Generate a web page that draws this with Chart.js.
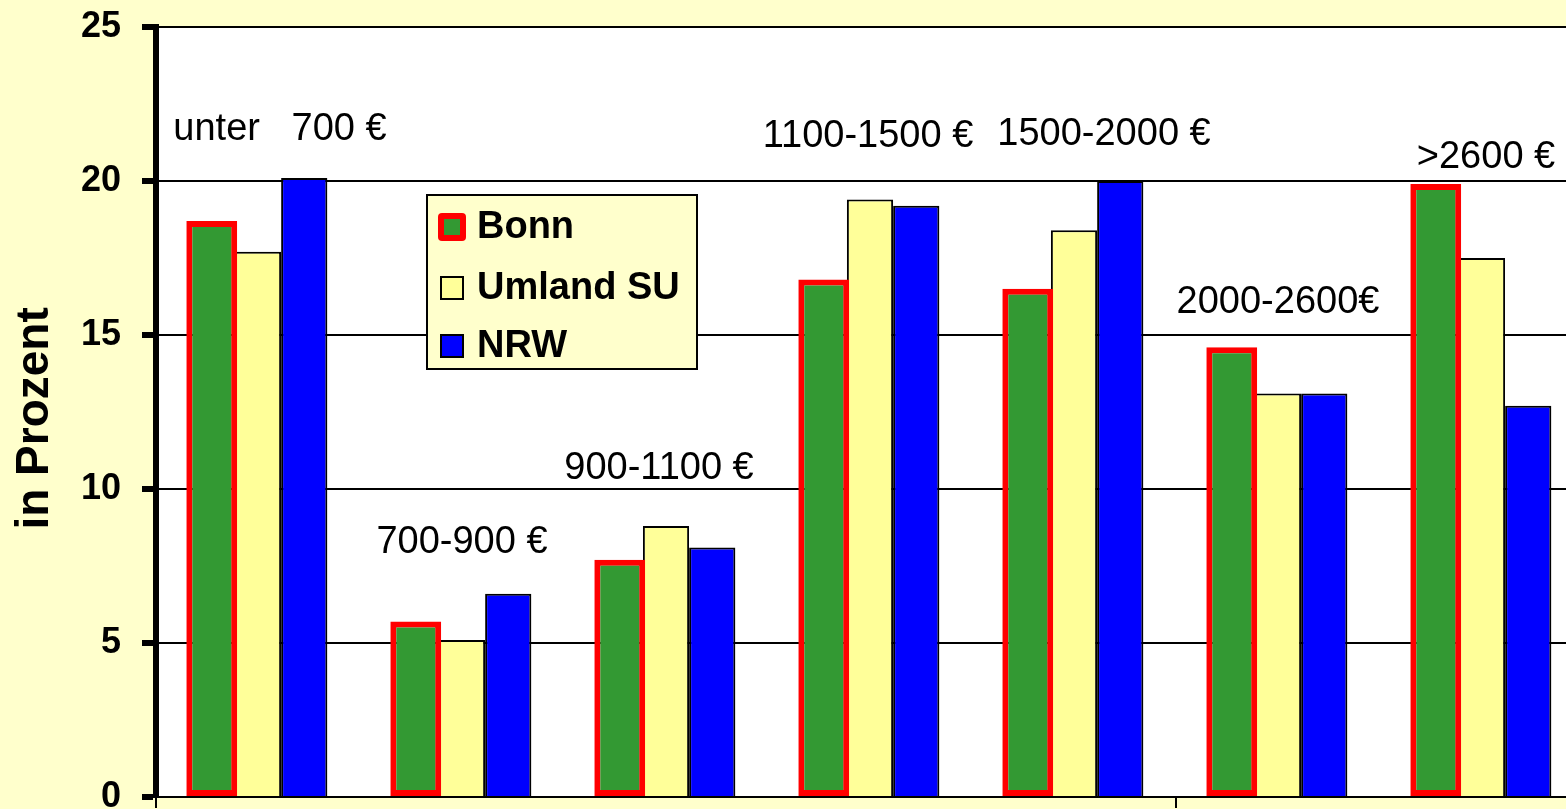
<!DOCTYPE html>
<html>
<head>
<meta charset="utf-8">
<script src="https://cdn.jsdelivr.net/npm/chart.js@4.4.0/dist/chart.umd.min.js"></script>
<style>
    html, body { margin: 0; padding: 0; overflow: hidden; background: #FFFFCC; }
    canvas { display: block; }
</style>
</head>
<body>
<canvas id="einkommenChart" width="1584" height="809"></canvas>
<script>
const categories = ["unter   700 €", "700-900 €", "900-1100 €", "1100-1500 €", "1500-2000 €", "2000-2600€", ">2600 €"];
const seriesNames = ["Bonn", "Umland SU", "NRW"];
const bonn = [18.7, 5.7, 7.7, 16.8, 16.5, 14.6, 19.9];
const umland = [17.7, 5.1, 8.8, 19.4, 18.4, 13.1, 17.5];
const nrw = [20.1, 6.6, 8.1, 19.2, 20.0, 13.1, 12.7];
const yTicks = [0, 5, 10, 15, 20, 25];

const FONT = '"Liberation Sans", Arial, sans-serif';

// hintergrund: gelb aussen, weiss im plot
const backgroundPlugin = {
    id: "background",
    beforeDraw(chart) {
        const { ctx, chartArea } = chart;
        ctx.save();
        ctx.fillStyle = "#FFFFCC";
        ctx.fillRect(0, 0, chart.width, chart.height);
        ctx.fillStyle = "#FFFFFF";
        ctx.fillRect(chartArea.left, chartArea.top, chartArea.right - chartArea.left, chartArea.bottom - chartArea.top);
        ctx.restore();
    }
};

// kategorie-beschriftungen ueber den gruppen
const categoryLabelPlugin = {
    id: "categoryLabels",
    afterDatasetsDraw(chart, args, opts) {
        const { ctx } = chart;
        const x = chart.scales.x, y = chart.scales.y;
        ctx.save();
        ctx.font = "38px " + FONT;
        ctx.fillStyle = "#000";
        ctx.textAlign = "center";
        ctx.textBaseline = "middle";
        categories.forEach((label, i) => {
            const a = opts.anchors[i];
            ctx.fillText(label, x.getPixelForValue(i) + a[0], y.getPixelForValue(a[1]));
        });
        ctx.restore();
    }
};

// legende im plot
const boxLegendPlugin = {
    id: "boxLegend",
    afterDraw(chart, args, opts) {
        const { ctx, chartArea } = chart;
        const bx = chartArea.left + opts.x, by = chartArea.top + opts.y;
        ctx.save();
        ctx.fillStyle = "#FFFFCC";
        ctx.fillRect(bx, by, opts.w, opts.h);
        ctx.strokeStyle = "#000";
        ctx.lineWidth = 2;
        ctx.strokeRect(bx, by, opts.w, opts.h);
        ctx.font = "bold 38px " + FONT;
        ctx.textBaseline = "middle";
        chart.data.datasets.forEach((ds, i) => {
            const cy = by + opts.rows[i];
            const cx = bx + 25;
            if (i === 0) {
                ctx.fillStyle = ds.borderColor;
                ctx.beginPath();
                ctx.roundRect(cx - 14, cy - 14, 28, 28, 4);
                ctx.fill();
                ctx.fillStyle = ds.backgroundColor;
                ctx.fillRect(cx - 8, cy - 8, 16, 16);
            } else {
                ctx.fillStyle = ds.backgroundColor;
                ctx.fillRect(cx - 11, cy - 11, 22, 22);
                ctx.strokeStyle = "#000";
                ctx.lineWidth = 2;
                ctx.strokeRect(cx - 11, cy - 11, 22, 22);
            }
            ctx.fillStyle = "#000";
            ctx.fillText(ds.label, bx + 50, cy + 1);
        });
        ctx.restore();
    }
};

const cnvs = document.getElementById("einkommenChart").getContext("2d");
const einkommenChart = new Chart(cnvs, {
    type: "bar",
    data: {
        labels: categories,
        datasets: [
            {
                label: seriesNames[0],
                data: bonn,
                backgroundColor: "#339933",
                borderColor: "#FF0000",
                borderWidth: 6,
                borderSkipped: false,
                barPercentage: 1.1
            },
            {
                label: seriesNames[1],
                data: umland,
                backgroundColor: "#FFFF99",
                borderColor: "#000000",
                borderWidth: 2
            },
            {
                label: seriesNames[2],
                data: nrw,
                backgroundColor: "#0000FF",
                borderColor: "#000000",
                borderWidth: 2
            }
        ]
    },
    options: {
        responsive: false,
        animation: false,
        layout: { padding: { top: 27, right: 0, bottom: 0, left: 0 } },
        datasets: { bar: { categoryPercentage: 0.68, barPercentage: 1.0 } },
        plugins: {
            legend: { display: false },
            tooltip: { enabled: false },
            categoryLabels: {
                anchors: [[22, 21.66], [0, 8.25], [-7, 10.65], [-2, 21.46], [30, 21.5], [0, 16.07], [4, 20.75]]
            },
            boxLegend: { x: 271, y: 168, w: 270, h: 174, rows: [32, 93, 151] }
        },
        scales: {
            x: {
                offset: true,
                ticks: { display: false },
                grid: {
                    offset: true,
                    drawOnChartArea: false,
                    drawTicks: true,
                    tickLength: 11,
                    lineWidth: 2,
                    color: (c) => (c.index === 0 || c.index === 5) ? "#000" : "rgba(0,0,0,0)"
                },
                border: { color: "#000", width: 2 },
                afterFit: (s) => { s.height = 12; s.paddingLeft = 0; s.paddingRight = 0; }
            },
            y: {
                min: 0,
                max: 25,
                afterBuildTicks: (s) => { s.ticks = yTicks.map(v => ({ value: v })); },
                ticks: {
                    font: { family: FONT, size: 36, weight: "bold" },
                    color: "#000",
                    padding: 21
                },
                grid: {
                    color: "#000",
                    lineWidth: 2,
                    tickLength: 14,
                    tickWidth: 6,
                    tickColor: "#000"
                },
                border: { color: "#000", width: 6 },
                title: {
                    display: true,
                    text: "in Prozent ",
                    font: { family: FONT, size: 46, weight: "bold" },
                    color: "#000",
                    padding: { top: 8, bottom: 0 }
                },
                afterFit: (s) => { s.width = 156; s.paddingTop = 0; s.paddingBottom = 0; }
            }
        }
    },
    plugins: [backgroundPlugin, categoryLabelPlugin, boxLegendPlugin]
});
</script>
</body>
</html>
